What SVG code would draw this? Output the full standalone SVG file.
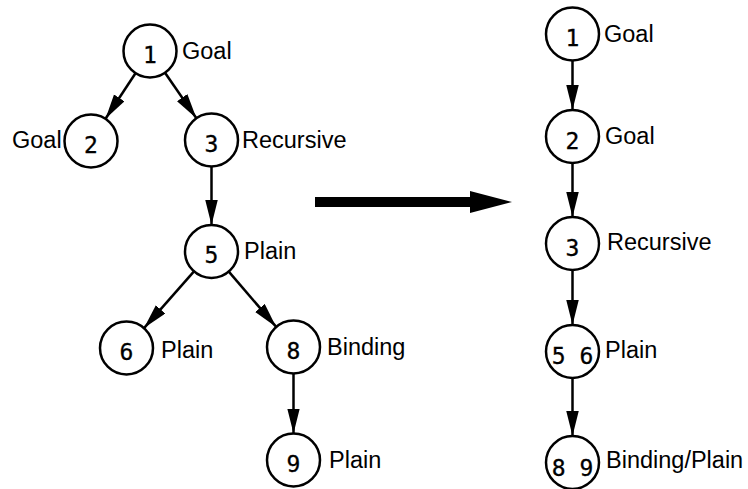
<svg xmlns="http://www.w3.org/2000/svg" width="748" height="489" viewBox="0 0 748 489">
  <style>
    .node circle { fill: #fff; stroke: #000; stroke-width: 2.5; }
    .num { font-family: "DejaVu Sans Mono", "Liberation Mono", monospace; font-size: 23px; text-anchor: middle; fill: #000; stroke: #000; stroke-width: 0.3; }
    .lbl { font-family: "Liberation Sans", Arial, sans-serif; font-size: 23.5px; fill: #000; }
    .edges line { stroke: #000; stroke-width: 2.5; marker-end: url(#head); }
  </style>
  <defs>
    <marker id="head" markerUnits="userSpaceOnUse" markerWidth="25" markerHeight="13" refX="25" refY="6.25" orient="auto">
      <path d="M0,0 L25,6.25 L0,12.5 Z" fill="#000"/>
    </marker>
  </defs>
  <rect width="748" height="489" fill="#fff"/>

  <!-- connectors -->
  <g id="connectors" class="edges">
    <line x1="135.5" y1="73.2" x2="105.5" y2="118.8"/>
    <line x1="165" y1="72.8" x2="196.4" y2="118.2"/>
    <line x1="211.5" y1="166.5" x2="211.5" y2="225"/>
    <line x1="194" y1="271.4" x2="144" y2="328.1"/>
    <line x1="228.8" y1="271.6" x2="276.2" y2="326.9"/>
    <line x1="293.5" y1="373.5" x2="293.5" y2="433.5"/>
    <line x1="572.5" y1="60.5" x2="572.5" y2="110"/>
    <line x1="572.5" y1="163" x2="572.5" y2="217"/>
    <line x1="572.5" y1="270" x2="572.5" y2="325"/>
    <line x1="572.5" y1="378" x2="572.5" y2="436"/>
  </g>

  <!-- transformation arrow -->
  <g id="transform-arrow">
    <rect x="315" y="197" width="156" height="10" fill="#000"/>
    <polygon points="470,191 512,202 470,213" fill="#000"/>
  </g>

  <!-- left tree -->
  <g id="n1" class="node"><circle cx="150" cy="51" r="26.5"/><text class="num" x="150" y="63">1</text><text class="lbl" x="182" y="59">Goal</text></g>
  <g id="n2" class="node"><circle cx="91" cy="141" r="26.5"/><text class="num" x="91" y="153">2</text><text class="lbl" x="12" y="148">Goal</text></g>
  <g id="n3" class="node"><circle cx="211.5" cy="140" r="26.5"/><text class="num" x="211.5" y="152">3</text><text class="lbl" x="242" y="148">Recursive</text></g>
  <g id="n5" class="node"><circle cx="211.5" cy="251.5" r="26.5"/><text class="num" x="211.5" y="263">5</text><text class="lbl" x="244" y="259">Plain</text></g>
  <g id="n6" class="node"><circle cx="126.5" cy="348" r="26.5"/><text class="num" x="126.5" y="360">6</text><text class="lbl" x="161" y="358">Plain</text></g>
  <g id="n8" class="node"><circle cx="293.5" cy="347" r="26.5"/><text class="num" x="293.5" y="359">8</text><text class="lbl" x="327" y="355">Binding</text></g>
  <g id="n9" class="node"><circle cx="293.5" cy="460" r="26.5"/><text class="num" x="293.5" y="472">9</text><text class="lbl" x="329" y="468">Plain</text></g>

  <!-- right chain -->
  <g id="r1" class="node"><circle cx="572.5" cy="34" r="26.5"/><text class="num" x="572.5" y="46">1</text><text class="lbl" x="604" y="42">Goal</text></g>
  <g id="r2" class="node"><circle cx="572.5" cy="136.5" r="26.5"/><text class="num" x="572.5" y="148.5">2</text><text class="lbl" x="605" y="144">Goal</text></g>
  <g id="r3" class="node"><circle cx="572.5" cy="243.5" r="26.5"/><text class="num" x="572.5" y="255.5">3</text><text class="lbl" x="607" y="250">Recursive</text></g>
  <g id="r56" class="node"><circle cx="572.5" cy="351.5" r="26.5"/><text class="num" x="572.5" y="364">5 6</text><text class="lbl" x="605" y="358">Plain</text></g>
  <g id="r89" class="node"><circle cx="572.5" cy="462.5" r="26.5"/><text class="num" x="572.5" y="476">8 9</text><text class="lbl" x="606" y="468">Binding/Plain</text></g>
</svg>
